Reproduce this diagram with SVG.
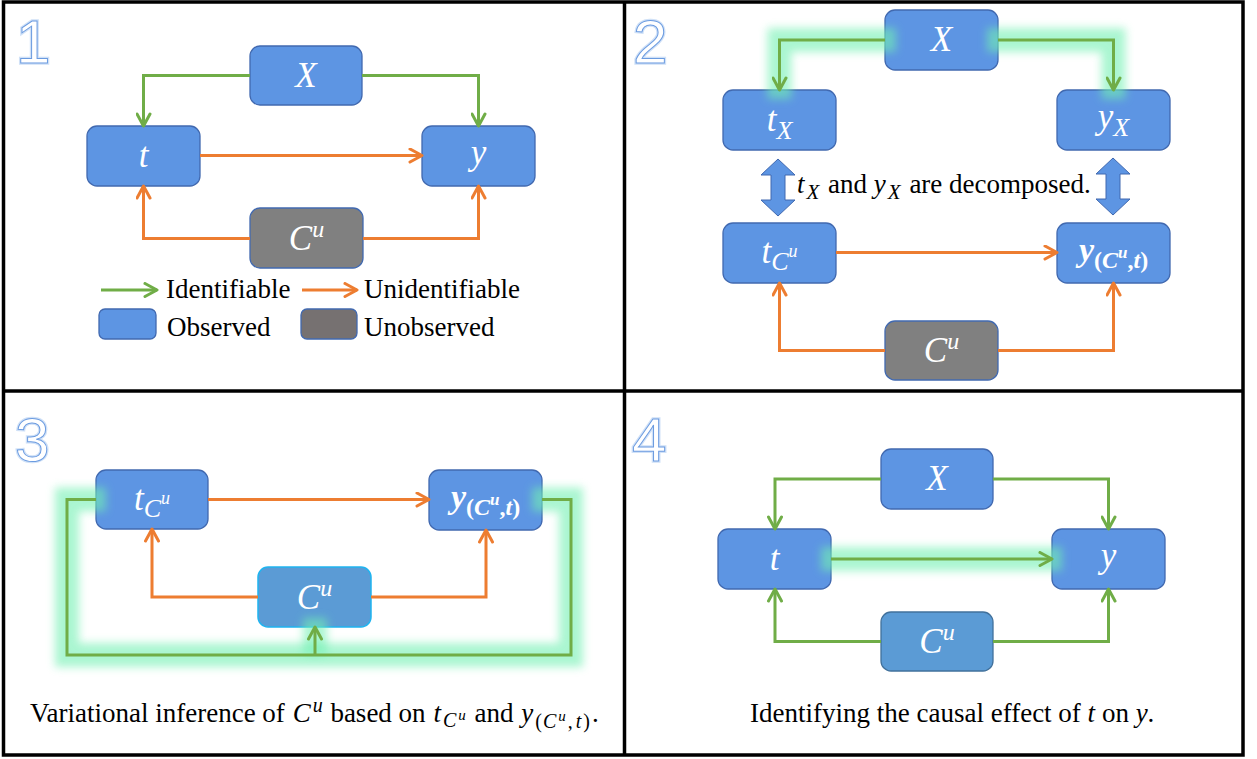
<svg xmlns="http://www.w3.org/2000/svg" width="1257" height="759" viewBox="0 0 1257 759">
<defs>
<style>
.obs{fill:#5d95e3;stroke:#4169b0;stroke-width:1.3}
.hid{fill:#808080;stroke:#4169b0;stroke-width:1.3}
.lbl{font-family:"Liberation Serif","Times New Roman",serif;font-style:italic;fill:#fff;font-size:35px;text-anchor:middle}
.blbl{font-family:"Liberation Serif","Times New Roman",serif;font-style:italic;font-weight:bold;fill:#fff;text-anchor:middle}
.txt{font-family:"Liberation Serif","Times New Roman",serif;font-size:27px;fill:#000}
.it{font-style:italic}
.g{fill:none;stroke:#70ad47;stroke-width:3}
.o{fill:none;stroke:#ed7d31;stroke-width:3}
.glow{fill:none;stroke:#72f0b2;stroke-width:24;opacity:0.6;filter:url(#blur)}
.num{font-family:"Liberation Sans",sans-serif;font-size:62px;fill:#fff;stroke:#6b9be0;stroke-width:1}
.numo{font-family:"Liberation Sans",sans-serif;font-size:62px;fill:none;stroke:#d0e1f7;stroke-width:3.5}
.frame{fill:none;stroke:#000;stroke-width:3.5}
</style>
<filter id="blur" filterUnits="userSpaceOnUse" x="0" y="0" width="1257" height="759"><feGaussianBlur stdDeviation="4"/></filter>
<marker id="ag" viewBox="0 0 16 16" refX="14" refY="8" markerWidth="16" markerHeight="16" markerUnits="userSpaceOnUse" orient="auto"><path d="M2,1.5 L14,8 L2,14.5" fill="none" stroke="#70ad47" stroke-width="3" stroke-linecap="round" stroke-linejoin="round"/></marker>
<marker id="ao" viewBox="0 0 16 16" refX="14" refY="8" markerWidth="16" markerHeight="16" markerUnits="userSpaceOnUse" orient="auto"><path d="M2,1.5 L14,8 L2,14.5" fill="none" stroke="#ed7d31" stroke-width="3" stroke-linecap="round" stroke-linejoin="round"/></marker>
</defs>
<rect width="1257" height="759" fill="#fff"/>

<g id="frames">
<rect class="frame" x="3.5" y="2" width="1239.5" height="753"/>
<line class="frame" x1="624.5" y1="2" x2="624.5" y2="755"/>
<line class="frame" x1="3.5" y1="391" x2="1243" y2="391"/>
</g>

<g id="panel-numbers">
<text class="numo" x="16" y="63">1</text><text class="num" x="16" y="63">1</text>
<text class="numo" x="633" y="63">2</text><text class="num" x="633" y="63">2</text>
<text class="numo" x="15" y="461">3</text><text class="num" x="15" y="461">3</text>
<text class="numo" x="632" y="461">4</text><text class="num" x="632" y="461">4</text>
</g>

<!-- Panel 1 -->
<g id="p1-X"><rect class="obs" x="250" y="46" width="112" height="59" rx="10"/><text class="lbl" x="306" y="87">X</text></g>
<g id="p1-t"><rect class="obs" x="87" y="126" width="113" height="60" rx="10"/><text class="lbl" x="143.5" y="167">t</text></g>
<g id="p1-y"><rect class="obs" x="422" y="126" width="113" height="60" rx="10"/><text class="lbl" x="478.5" y="164">y</text></g>
<g id="p1-Cu"><rect class="hid" x="250" y="208" width="113" height="60" rx="10"/><text class="lbl" x="306.5" y="250">C<tspan font-size="24" dy="-13">u</tspan></text></g>

<g id="p1-legend">
<line class="g" x1="101" y1="290" x2="157" y2="290" marker-end="url(#ag)"/>
<text class="txt" x="166" y="298">Identifiable</text>
<line class="o" x1="302" y1="290" x2="357" y2="290" marker-end="url(#ao)"/>
<text class="txt" x="364" y="298">Unidentifiable</text>
<rect class="obs" x="99" y="309" width="57" height="30" rx="6"/>
<text class="txt" x="167" y="336">Observed</text>
<rect x="301" y="309" width="56" height="30" rx="6" fill="#767171" stroke="#4169b0" stroke-width="1.3"/>
<text class="txt" x="364" y="336">Unobserved</text>
</g>

<!-- Panel 2 -->
<g id="p2-X"><rect class="obs" x="885" y="10" width="113" height="60" rx="10"/><text class="lbl" x="941.5" y="51">X</text></g>
<g id="p2-tX"><rect class="obs" x="723" y="90" width="113" height="60" rx="10"/><text class="lbl" x="779.5" y="131">t<tspan font-size="26" dy="8">X</tspan></text></g>
<g id="p2-yX"><rect class="obs" x="1057" y="90" width="113" height="60" rx="10"/><text class="lbl" x="1113.5" y="128">y<tspan font-size="26" dy="8">X</tspan></text></g>
<g id="p2-tCu"><rect class="obs" x="723" y="223" width="113" height="60" rx="10"/><text class="lbl" x="779.5" y="263">t<tspan font-size="26" dy="7">C</tspan><tspan font-size="18" dy="-13">u</tspan></text></g>
<g id="p2-yCut"><rect class="obs" x="1057" y="223" width="113" height="60" rx="10"/><text class="blbl" x="1113.5" y="261" font-size="34">y<tspan font-size="24" dy="7" font-style="normal">(</tspan><tspan font-size="24">C</tspan><tspan font-size="17" dy="-10">u</tspan><tspan font-size="24" dy="10" font-style="normal">,</tspan><tspan font-size="24">t</tspan><tspan font-size="24" font-style="normal">)</tspan></text></g>
<g id="p2-Cu"><rect class="hid" x="885" y="321" width="113" height="59" rx="10"/><text class="lbl" x="941.5" y="362">C<tspan font-size="24" dy="-13">u</tspan></text></g>

<g id="p2-decomp">
<polygon points="778,159 795,175 785,175 785,200 795,200 778,216 761,200 771,200 771,175 761,175" fill="#5d95e3" stroke="#4169b0" stroke-width="1"/>
<polygon points="1113,158 1130,174 1120,174 1120,199 1130,199 1113,215 1096,199 1106,199 1106,174 1096,174" fill="#5d95e3" stroke="#4169b0" stroke-width="1"/>
<text class="txt" x="797" y="193"><tspan class="it">t</tspan><tspan class="it" font-size="21" dx="2" dy="6">X</tspan><tspan dx="2" dy="-6"> and </tspan><tspan class="it">y</tspan><tspan class="it" font-size="21" dx="2" dy="6">X</tspan><tspan dx="2" dy="-6"> are decomposed.</tspan></text>
</g>

<!-- Panel 3 -->
<g id="p3-tCu"><rect class="obs" x="96" y="470" width="112" height="59" rx="10"/><text class="lbl" x="152" y="510">t<tspan font-size="26" dy="7">C</tspan><tspan font-size="18" dy="-13">u</tspan></text></g>
<g id="p3-yCut"><rect class="obs" x="429" y="470" width="113" height="60" rx="10"/><text class="blbl" x="485.5" y="508" font-size="34">y<tspan font-size="24" dy="7" font-style="normal">(</tspan><tspan font-size="24">C</tspan><tspan font-size="17" dy="-10">u</tspan><tspan font-size="24" dy="10" font-style="normal">,</tspan><tspan font-size="24">t</tspan><tspan font-size="24" font-style="normal">)</tspan></text></g>
<g id="p3-Cu"><rect x="258" y="567" width="113" height="60" rx="10" fill="#5b9bd5" stroke="#1fb4f0" stroke-width="1.5"/><text class="lbl" x="314.5" y="609">C<tspan font-size="24" dy="-13">u</tspan></text></g>
<text class="txt" x="30" y="722">Variational inference of <tspan class="it" dx="1">C</tspan><tspan class="it" font-size="20" dx="2" dy="-10">u</tspan><tspan dx="1" dy="10"> based on </tspan><tspan class="it" dx="1">t</tspan><tspan class="it" font-size="20" dx="2" dy="5">C</tspan><tspan class="it" font-size="15" dx="2" dy="-7">u</tspan><tspan dx="2" dy="2"> and </tspan><tspan class="it" dx="1">y</tspan><tspan font-size="20" dx="2" dy="6">(</tspan><tspan class="it" font-size="20" dx="1">C</tspan><tspan class="it" font-size="15" dx="2" dy="-7">u</tspan><tspan font-size="20" dx="2" dy="7">,</tspan><tspan class="it" font-size="20" dx="3">t</tspan><tspan font-size="20" dx="2">)</tspan><tspan dx="2" dy="-6">.</tspan></text>

<!-- Panel 4 -->
<g id="p4-X"><rect class="obs" x="881" y="449" width="112" height="60" rx="10"/><text class="lbl" x="937" y="490">X</text></g>
<g id="p4-t"><rect class="obs" x="718" y="529" width="113" height="60" rx="10"/><text class="lbl" x="774.5" y="570">t</text></g>
<g id="p4-y"><rect class="obs" x="1052" y="529" width="113" height="60" rx="10"/><text class="lbl" x="1108.5" y="567">y</text></g>
<g id="p4-Cu"><rect x="881" y="612" width="112" height="59" rx="10" fill="#5b9bd5" stroke="#41719c" stroke-width="1.3"/><text class="lbl" x="937" y="653">C<tspan font-size="24" dy="-13">u</tspan></text></g>
<text class="txt" x="750" y="722">Identifying the causal effect of <tspan class="it">t</tspan> on <tspan class="it">y</tspan>.</text>

<g id="connectors">
<!-- glows -->
<path class="glow" d="M896,40 H779.5 V99"/>
<path class="glow" d="M987,40 H1113.5 V99"/>
<path class="glow" d="M106,499.5 H67 V655 H571 V499.5 H532"/>
<path class="glow" d="M315,655 V618"/>
<path class="glow" d="M821,559 H1062"/>
<!-- panel 1 -->
<path class="g" d="M250,75.5 H143.5 V126" marker-end="url(#ag)"/>
<path class="g" d="M362,75.5 H478.5 V126" marker-end="url(#ag)"/>
<path class="o" d="M200,155.5 H422" marker-end="url(#ao)"/>
<path class="o" d="M250,238.5 H143.5 V186" marker-end="url(#ao)"/>
<path class="o" d="M363,238.5 H478.5 V186" marker-end="url(#ao)"/>
<!-- panel 2 -->
<path class="g" d="M885,40 H779.5 V90" marker-end="url(#ag)"/>
<path class="g" d="M998,40 H1113.5 V90" marker-end="url(#ag)"/>
<path class="o" d="M836,252.5 H1057" marker-end="url(#ao)"/>
<path class="o" d="M885,350.5 H779.5 V283" marker-end="url(#ao)"/>
<path class="o" d="M998,350.5 H1113.5 V283" marker-end="url(#ao)"/>
<!-- panel 3 -->
<path class="o" d="M208,499.5 H429" marker-end="url(#ao)"/>
<path class="o" d="M258,597 H152 V529" marker-end="url(#ao)"/>
<path class="o" d="M371,597 H486 V530" marker-end="url(#ao)"/>
<path class="g" d="M96,499.5 H67 V655 H571 V499.5 H542"/>
<path class="g" d="M315,655 V627" marker-end="url(#ag)"/>
<!-- panel 4 -->
<path class="g" d="M881,479 H775 V529" marker-end="url(#ag)"/>
<path class="g" d="M993,479 H1108.5 V529" marker-end="url(#ag)"/>
<path class="g" d="M831,559 H1052" marker-end="url(#ag)"/>
<path class="g" d="M881,641.5 H775 V589" marker-end="url(#ag)"/>
<path class="g" d="M993,641.5 H1108.5 V589" marker-end="url(#ag)"/>
</g>
</svg>
